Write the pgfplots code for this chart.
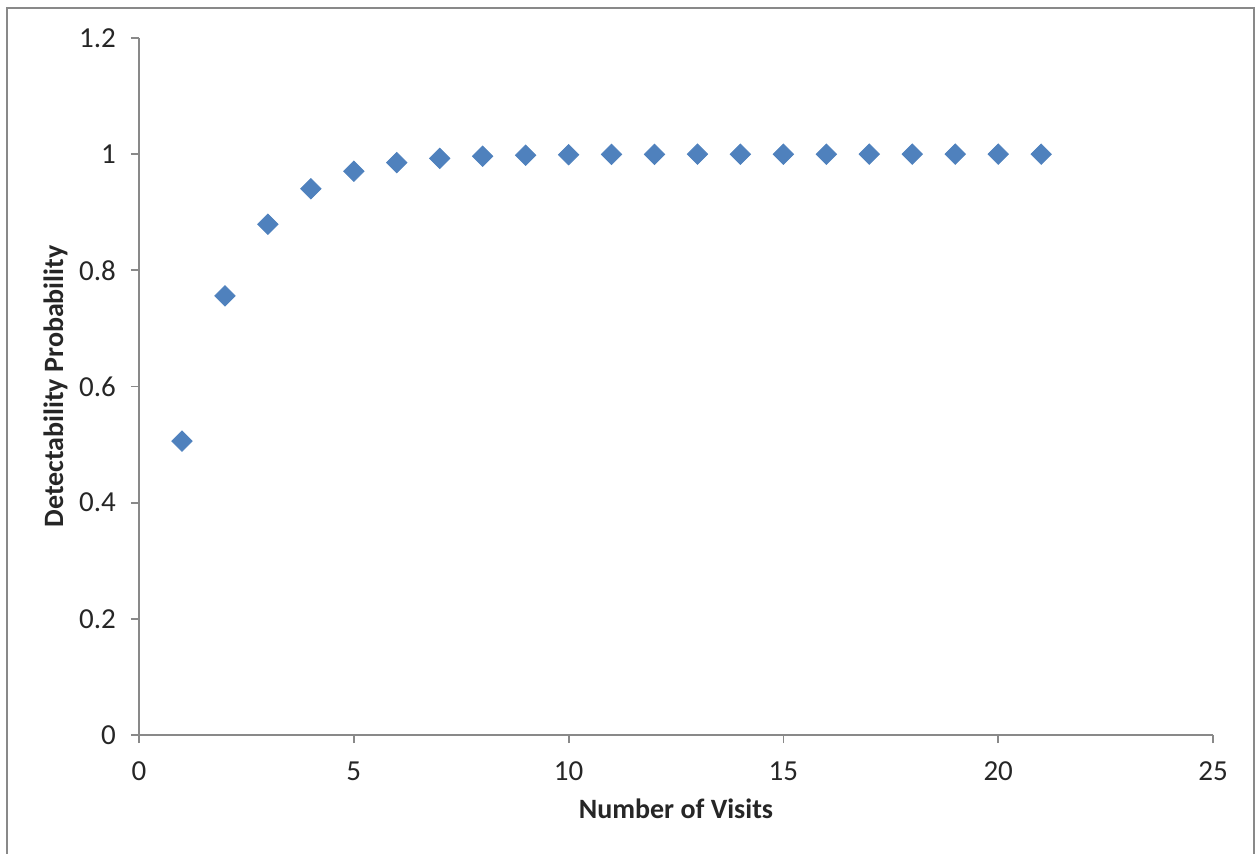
\documentclass[border=0pt]{standalone}
\usepackage{pgfplots}
\pgfplotsset{compat=1.18}
\usepackage{fontspec}
\setmainfont{Carlito}
\definecolor{serblue}{HTML}{4F81BD}
\definecolor{axgray}{HTML}{898989}
\definecolor{txt}{HTML}{262626}
\begin{document}
\begin{tikzpicture}
% page extent and chart frame
\path[use as bounding box] (-69.5pt,-59pt) rectangle (559.5pt,367.5pt);
\draw[axgray, line width=0.9pt] (-66pt,-60pt) -- (-66pt,363.5pt) -- (557.5pt,363.5pt) -- (557.5pt,-60pt);
\begin{axis}[
  at={(0,0)}, anchor=south west,
  scale only axis,
  width=537pt, height=348.5pt,
  xmin=0, xmax=25, ymin=0, ymax=1.2,
  xtick={0,5,...,25},
  ytick={0,0.2,...,1.2},
  axis x line=bottom, axis y line=left,
  axis line style={axgray, line width=0.9pt, -},
  tick style={axgray, line width=0.9pt},
  tick align=outside,
  major tick length=4pt,
  font=\fontsize{14}{16}\selectfont,
  tick label style={txt, font=\fontsize{14.5}{16}\selectfont},
  /pgf/number format/assume math mode=true,
  yticklabel style={xshift=-4pt},
  xticklabel style={yshift=-6pt},
  xlabel={\textbf{Number of Visits}},
  ylabel={\textbf{Detectability Probability}},
  label style={txt, font=\fontsize{14}{16}\selectfont},
  xlabel style={yshift=-2pt},
  ylabel style={yshift=-1pt},
  clip=false,
]
\addplot[only marks, mark=square*, mark size=3.6pt,
  mark options={rotate=45, fill=serblue, draw=serblue}]
  coordinates {
  (1,0.506) (2,0.756) (3,0.8794) (4,0.9404) (5,0.9706)
  (6,0.9855) (7,0.9928) (8,0.9965) (9,0.9983) (10,0.9991)
  (11,0.9996) (12,0.9998) (13,0.9999) (14,0.99995) (15,0.99998)
  (16,0.99999) (17,1.0) (18,1.0) (19,1.0) (20,1.0) (21,1.0)
  };
\end{axis}
\end{tikzpicture}
\end{document}
